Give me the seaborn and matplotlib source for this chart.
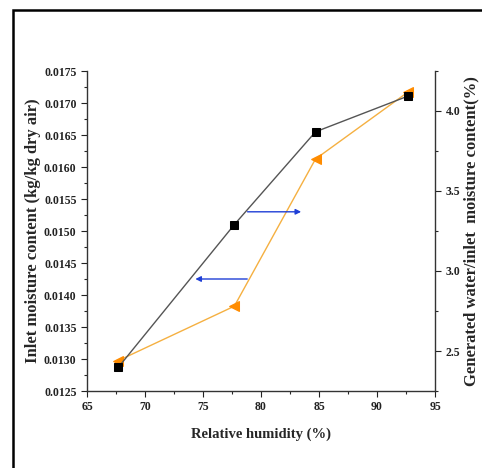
import matplotlib
matplotlib.use("Agg")
import matplotlib.pyplot as plt
import seaborn as sns
import pandas as pd
from matplotlib.ticker import MultipleLocator, FormatStrFormatter
from matplotlib.patches import Rectangle

relative_humidity = [67.7, 77.7, 84.7, 92.7]
inlet_moisture = [0.01287, 0.0151, 0.01655, 0.01711]
water_ratio = [2.44, 2.78, 3.70, 4.12]

sns.set_style("ticks")
plt.rcParams['font.family'] = ['Liberation Serif', 'DejaVu Serif']
plt.rcParams['font.weight'] = 'bold'

df = pd.DataFrame({"rh": relative_humidity, "moist": inlet_moisture, "ratio": water_ratio})

fig = plt.figure(figsize=(4.82, 4.68), dpi=100)
ax = fig.add_axes([87/482, 1 - 391/468, (435-87)/482, (391-71)/468])
ax2 = ax.twinx()

sns.lineplot(data=df, x="rh", y="moist", ax=ax, color="#555555", lw=1.0,
             marker="s", markersize=6, markerfacecolor="black",
             markeredgecolor="black", zorder=3)
sns.lineplot(data=df, x="rh", y="ratio", ax=ax2, color="#F5B041", lw=1.0,
             marker="<", markersize=6.5, markerfacecolor="#FF8C00",
             markeredgecolor="#FF8C00", zorder=2)
ax.set_zorder(ax2.get_zorder() + 1)
ax.patch.set_visible(False)

ax.set_xlim(65, 95)
ax.set_ylim(0.0125, 0.0175)
ax2.set_ylim(2.25, 4.25)

ax.xaxis.set_major_locator(MultipleLocator(5))
ax.xaxis.set_minor_locator(MultipleLocator(2.5))
ax.yaxis.set_major_locator(MultipleLocator(0.0005))
ax.yaxis.set_minor_locator(MultipleLocator(0.00025))
ax.yaxis.set_major_formatter(FormatStrFormatter('%.4f'))
ax2.yaxis.set_major_locator(MultipleLocator(0.5))
ax2.yaxis.set_minor_locator(MultipleLocator(0.25))
ax2.yaxis.set_major_formatter(FormatStrFormatter('%.1f'))

for a in (ax, ax2):
    a.tick_params(which='major', direction='out', length=4, width=0.8, labelsize=8.5, colors='#222222')
    a.tick_params(which='minor', direction='out', length=2.5, width=0.8)
    for lab in a.get_xticklabels() + a.get_yticklabels():
        lab.set_fontweight('bold')
    for s in a.spines.values():
        s.set_color('#333333')
        s.set_linewidth(1.0)
    a.spines['top'].set_visible(False)
ax.spines['right'].set_visible(False)
ax2.spines['left'].set_visible(False)
ax2.spines['bottom'].set_visible(False)

ax.set_xlabel("Relative humidity (%)", fontsize=10.5, fontweight='bold', labelpad=10)
ax.set_ylabel("Inlet moisture content (kg/kg dry air)", fontsize=12, fontweight='bold')
ax.yaxis.set_label_coords(-0.133, 0.5)
ax2.set_ylabel("Generated water/inlet  moisture content(%)", fontsize=12, fontweight='bold', labelpad=2)

arrow_kw = dict(arrowstyle="-|>", color="#1f3fd6", lw=1.0, mutation_scale=8)
ax.annotate("", xy=(83.7, 0.0153), xytext=(78.6, 0.0153), arrowprops=arrow_kw)
ax.annotate("", xy=(74.1, 0.01425), xytext=(79.05, 0.01425), arrowprops=arrow_kw)

fig.patches.append(Rectangle((13/482, -0.1), 1.2, 1.1 - 10/468,
                             transform=fig.transFigure, fill=False,
                             edgecolor='black', lw=1.8, figure=fig))

fig.savefig("out.png", dpi=100)
